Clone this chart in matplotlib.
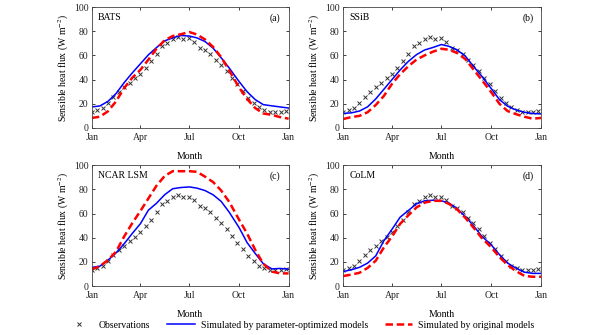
import matplotlib
matplotlib.use("Agg")
import matplotlib.pyplot as plt

plt.rcParams['font.family'] = ['Liberation Serif', 'DejaVu Serif']
plt.rcParams['mathtext.fontset'] = 'stix'
plt.rcParams['font.size'] = 7

# day-of-year positions
month_ticks = [0, 90, 181, 273, 365]
month_labels = ['Jan', 'Apr', 'Jul', 'Oct', 'Jan']
obs_days = [0, 10, 20, 30, 40, 50, 60, 70, 80, 90, 100, 110, 120, 130, 140, 150, 160, 170, 180,
            190, 200, 210, 220, 230, 240, 250, 260, 270, 280, 290, 300, 310, 320, 330, 340, 350, 360]
model_days = [0, 15, 30, 45, 60, 75, 90, 105, 120, 135, 150, 165, 181,
              195, 210, 225, 240, 255, 273, 288, 303, 318, 334, 349, 365]

# observed sensible heat flux (W m-2), same site for all panels
obs_flux = [13, 15, 16.5, 20.7, 25.3, 29.5, 33.5, 37.5, 41, 45, 49.5, 55, 61.4, 67.5, 70.5, 73.8, 75.3,
            73.6, 74, 71, 66.5, 64.5, 61, 56.5, 52, 47, 41.5, 36, 30.5, 25, 20.7, 17, 15, 13.5,
            13, 13, 14]

# BATS
bats_opt = [17.4, 18.2, 22, 28.5, 37.5, 45.5, 53, 60.5, 66.5, 72, 74.5, 76.5, 76,
            74.5, 71.5, 66, 58, 49.5, 38.5, 30, 23.5, 19.3, 18.3, 17.4, 16.5]
bats_orig = [8.3, 9.3, 13.8, 22, 33, 41.5, 48, 56.5, 65.5, 72.5, 76, 77.5, 79.3,
             77.3, 73.2, 67, 58.5, 47.5, 33.5, 24, 16.5, 12, 10.8, 9, 7.7]

# SSiB
ssib_opt = [12, 12.5, 14, 17.5, 24, 32, 40, 48, 55, 60.6, 64.5, 66.5, 69,
            67.5, 64.5, 59.5, 51, 43, 32.5, 23.5, 18, 15, 13, 12, 11.6]
ssib_orig = [7.4, 9, 10, 13, 19, 26.5, 36.5, 44.5, 51, 56.5, 60, 63, 65.5,
             64.7, 62, 57, 48.5, 40, 29.5, 20, 14, 11.5, 9.3, 7.7, 8.3]

# NCAR LSM
ncar_opt = [15.4, 16.5, 21.5, 27.5, 35, 43.5, 51.5, 62.8, 68.5, 75.5, 80.5, 81.5, 82,
            81, 79, 75.5, 70, 61, 48.5, 36, 27, 18.5, 14.2, 14.6, 14]
ncar_orig = [13.8, 16.5, 21.5, 28.5, 41, 52, 62, 72.5, 83, 91, 95, 95, 95,
             94.5, 90.5, 86, 79, 69.5, 55, 43.5, 30, 18.5, 12, 10.5, 10.5]

# CoLM
colm_opt = [12, 13.5, 15.5, 19, 25, 37.5, 47, 57, 62.5, 68, 70.5, 71, 70.5,
            68.7, 64, 57.5, 50, 41.5, 34, 26, 19, 15, 11.5, 10.5, 10.5]
colm_orig = [8.3, 9.5, 11, 15, 21, 32, 41, 51.5, 58.5, 65, 69, 70.5, 70.5,
             68, 63.4, 56.5, 48.5, 40, 32, 24, 17.5, 12.5, 8.5, 7.7, 7.7]

panels = [
    ('BATS', '(a)', bats_opt, bats_orig),
    ('SSiB', '(b)', ssib_opt, ssib_orig),
    ('NCAR LSM', '(c)', ncar_opt, ncar_orig),
    ('CoLM', '(d)', colm_opt, colm_orig),
]

fig = plt.figure(figsize=(6.0, 3.35), dpi=100)
boxes = [
    [0.153, 0.618, 0.328, 0.361],
    [0.572, 0.618, 0.330, 0.361],
    [0.153, 0.146, 0.328, 0.361],
    [0.572, 0.146, 0.330, 0.361],
]

for box, (name, tag, opt, orig) in zip(boxes, panels):
    ax = fig.add_axes(box)
    h_obs, = ax.plot(obs_days, obs_flux, linestyle='none', marker='x', color='#333333',
                     markersize=3, markeredgewidth=0.7, label='Observations')
    h_opt, = ax.plot(model_days, opt, color='#0000ff', lw=1.1,
                     label='Simulated by parameter-optimized models')
    h_orig, = ax.plot(model_days, orig, color='#ff0000', lw=1.8, dashes=(3, 1.5),
                      label='Simulated by original models')
    ax.set_xlim(0, 365)
    ax.set_ylim(0, 100)
    ax.set_xticks(month_ticks)
    ax.set_xticklabels(month_labels)
    ax.set_yticks(range(0, 101, 20))
    ax.tick_params(direction='in', length=2.5, width=0.6, top=True, right=True,
                   labelsize=7, colors='#222222')
    ax.tick_params(axis='x', pad=3.5)
    ax.tick_params(axis='y', pad=2.5)
    for sp in ax.spines.values():
        sp.set_linewidth(0.6)
        sp.set_color('#444444')
    ax.set_xlabel('Month', labelpad=7)
    ax.set_ylabel('Sensible heat flux (W m$^{-2}$)', labelpad=2)
    ax.text(0.03, 0.95, name, transform=ax.transAxes, ha='left', va='top')
    ax.text(0.96, 0.95, tag, transform=ax.transAxes, ha='right', va='top')

fig.legend(handles=[h_obs, h_opt, h_orig], loc='lower center', bbox_to_anchor=(0.50, -0.01),
           ncol=3, frameon=False, fontsize=7, handlelength=2.8, columnspacing=1.8,
           handletextpad=0.6)

fig.savefig('out.png', dpi=100)
